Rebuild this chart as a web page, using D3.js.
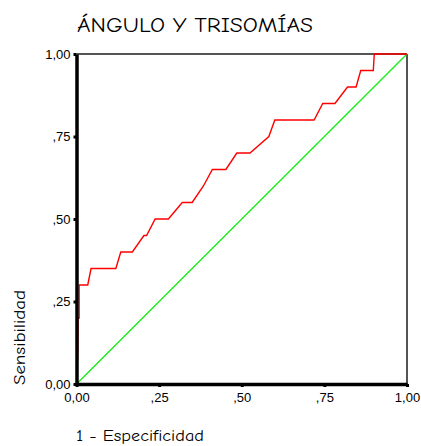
<!DOCTYPE html>
<html>
<head>
<meta charset="utf-8">
<script src="https://cdn.jsdelivr.net/npm/d3@7"></script>
<style>
  html, body { margin: 0; padding: 0; background: #fff; }
  svg { display: block; }
</style>
</head>
<body>
<svg id="chart" width="421" height="446"></svg>
<script>
// ROC curve: 1 - specificity vs. sensitivity
const fpr  = [0, 0.004, 0.005, 0.008, 0.008, 0.034, 0.044, 0.119, 0.134, 0.169, 0.204, 0.212, 0.238, 0.278, 0.320, 0.350, 0.384, 0.411, 0.452, 0.485, 0.525, 0.582, 0.600, 0.719, 0.745, 0.782, 0.820, 0.846, 0.860, 0.898, 0.901, 1.0];
const sens = [0, 0.10,  0.20,  0.20,  0.30,  0.30,  0.35,  0.35,  0.40,  0.40,  0.45,  0.45,  0.50,  0.50,  0.55,  0.55,  0.60,  0.65,  0.65,  0.70,  0.70,  0.75,  0.80,  0.80,  0.85,  0.85,  0.90,  0.90,  0.95,  0.95,  1.00, 1.0];
// Reference (chance) line
const refX = [0, 1];
const refY = [0, 1];
const tickValues = [0, 0.25, 0.5, 0.75, 1];
const tickLabels = ["0,00", ",25", ",50", ",75", "1,00"];

const titleText = "ÁNGULO Y TRISOMÍAS";
const xTitle = "1 - Especificidad";
const yTitle = "Sensibilidad";

const svg = d3.select("#chart");
const plotLeft = 76.5, plotRight = 407, plotTop = 54, plotBottom = 384;

const x = d3.scaleLinear().domain([0, 1]).range([plotLeft, plotRight]);
const y = d3.scaleLinear().domain([0, 1]).range([plotBottom, plotTop]);

const handFont = "'Comic Sans MS', 'Comic Neue', 'Noto Sans', 'DejaVu Sans', sans-serif";

// Title
svg.append("text")
  .attr("x", 77).attr("y", 32)
  .attr("font-family", handFont)
  .attr("font-size", 21)
  .attr("textLength", 236)
  .attr("lengthAdjust", "spacingAndGlyphs")
  .attr("fill", "#000")
  .text(titleText);

// Frame: top and right edges
svg.append("line")
  .attr("x1", x(0)).attr("x2", x(1)).attr("y1", y(1)).attr("y2", y(1))
  .attr("stroke", "#555").attr("stroke-width", 2);
svg.append("line")
  .attr("x1", x(1)).attr("x2", x(1)).attr("y1", y(1)).attr("y2", y(0))
  .attr("stroke", "#555").attr("stroke-width", 2);

// Chance line
const lineGen = d3.line().x(d => x(d[0])).y(d => y(d[1]));
svg.append("path")
  .datum(refX.map((v, i) => [v, refY[i]]))
  .attr("d", lineGen)
  .attr("fill", "none")
  .attr("stroke", "#11ee11")
  .attr("stroke-width", 1.3);

// ROC curve
svg.append("path")
  .datum(fpr.map((v, i) => [v, sens[i]]))
  .attr("d", lineGen)
  .attr("fill", "none")
  .attr("stroke", "#ff0000")
  .attr("stroke-width", 1.4)
  .attr("stroke-linejoin", "miter");

// Axes
const xAxis = d3.axisBottom(x).tickValues(tickValues)
  .tickFormat((d, i) => tickLabels[i]).tickSizeInner(3).tickSizeOuter(0).tickPadding(5);
const yAxis = d3.axisLeft(y).tickValues(tickValues)
  .tickFormat((d, i) => tickLabels[i]).tickSizeInner(3).tickSizeOuter(0).tickPadding(3);

const gx = svg.append("g").attr("transform", `translate(0,${plotBottom})`).call(xAxis);
const gy = svg.append("g").attr("transform", `translate(${plotLeft},0)`).call(yAxis);

[gx, gy].forEach(g => {
  g.select(".domain").attr("stroke", "#000").attr("stroke-width", 3.5);
  g.selectAll(".tick line").attr("stroke", "#000").attr("stroke-width", 3);
  g.selectAll(".tick text")
    .attr("font-family", "'Liberation Sans', Arial, sans-serif")
    .attr("font-size", 13)
    .attr("fill", "#000");
});
gx.selectAll(".tick text").attr("dy", "0.8em");

// Axis titles
svg.append("text")
  .attr("x", 76).attr("y", 441)
  .attr("font-family", handFont)
  .attr("font-size", 15)
  .attr("textLength", 128)
  .attr("lengthAdjust", "spacingAndGlyphs")
  .attr("fill", "#000")
  .text(xTitle);

svg.append("text")
  .attr("transform", "translate(25,385) rotate(-90)")
  .attr("font-family", handFont)
  .attr("font-size", 15)
  .attr("textLength", 95)
  .attr("lengthAdjust", "spacingAndGlyphs")
  .attr("fill", "#000")
  .text(yTitle);
</script>
</body>
</html>
